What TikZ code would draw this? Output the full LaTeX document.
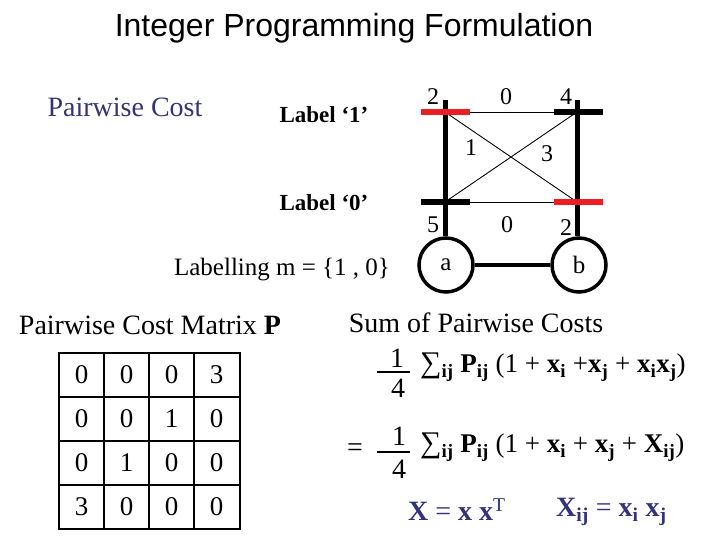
\documentclass[tikz,border=0pt]{standalone}
\usepackage{fontspec}
\setmainfont{Liberation Serif}
\newfontfamily\arialf{Liberation Sans}
\definecolor{navy}{RGB}{51,51,122}
\definecolor{barred}{RGB}{235,30,35}
\newcommand\bsub[2]{\textbf{#1}\textsubscript{\textbf{#2}}}
\begin{document}
\begin{tikzpicture}[x=1pt,y=-1pt,
  txt/.style={inner sep=0pt,font=\fontsize{28}{32}\selectfont},
  eqt/.style={inner sep=0pt,font=\fontsize{27}{31}\selectfont},
  lbl/.style={inner sep=0pt,font=\fontsize{23}{27}\selectfont\bfseries},
  num/.style={inner sep=0pt,font=\fontsize{24}{28}\selectfont},
  cell/.style={inner sep=0pt,font=\fontsize{27}{30}\selectfont},
  vert/.style={draw,circle,line width=3.5pt,minimum size=54pt,inner sep=0pt,font=\fontsize{25}{29}\selectfont},
  thickline/.style={line width=5pt},
  edge/.style={line width=4pt},
  thinline/.style={line width=0.9pt},
  barbox/.style={minimum width=49pt,minimum height=6pt,inner sep=0pt,outer sep=0pt},
  grid/.style={line width=2.5pt}
]
\useasboundingbox (0,0) rectangle (720,540);
% title
\node[inner sep=0pt,font=\arialf\fontsize{32}{36}\selectfont] (title) at (354,28) {Integer Programming Formulation};
% left labels
\node[txt,text=navy] (pc) at (125,107) {Pairwise Cost};
\node[lbl] (l1) at (324,115) {Label ‘1’};
\node[lbl] (l0) at (324,203) {Label ‘0’};
\node[inner sep=0pt,font=\fontsize{25}{29}\selectfont] (lab) at (282,270) {Labelling m = \{1 , 0\}};
% graph
\coordinate (tL) at (445,100);
\coordinate (tR) at (577,100);
\coordinate (cL1) at (445,112);
\coordinate (cR1) at (577,112);
\coordinate (cL0) at (445,202);
\coordinate (cR0) at (577,202);
\node[vert] (a) at (446,265) {a};
\node[vert] (b) at (579,265) {b};
\draw[edge] (a) -- (b);
\draw[thickline] (tL) -- (tL |- a.north);
\draw[thickline] (tR) -- (tR |- b.north);
\draw[thinline] (cL1) -- (cR1);
\draw[thinline] (cL0) -- (cR0);
\draw[thinline] (cL1) -- (cR0);
\draw[thinline] (cL0) -- (cR1);
\node[barbox,fill=barred] (bL1) at (cL1) {};
\node[barbox,fill=black] (bR1) at ([xshift=1pt]cR1) {};
\node[barbox,fill=black] (bL0) at (cL0) {};
\node[barbox,fill=barred] (bR0) at ([xshift=1pt]cR0) {};
\node[num] (n1) at (433,97) {2};
\node[num] (n2) at (506,97) {0};
\node[num] (n3) at (566,97) {4};
\node[num] (n4) at (471,148) {1};
\node[num] (n5) at (547,154) {3};
\node[num] (n6) at (433,225) {5};
\node[num] (n7) at (507,225) {0};
\node[num] (n8) at (566,228) {2};
% matrix
\node[txt] (pcm) at (150,325) {Pairwise Cost Matrix \textbf{P}};
\draw[grid] (59,353) rectangle (240,529);
\foreach \yy in {397,441,485} \draw[grid] (59,\yy) -- (240,\yy);
\foreach \xx in {104,149,194} \draw[grid] (\xx,353) -- (\xx,529);
\foreach \r/\vals in {1/{0,0,0,3},2/{0,0,1,0},3/{0,1,0,0},4/{3,0,0,0}}{
  \foreach \v [count=\c] in \vals {
    \node[cell] (m\r\c) at ({59+45*\c-22.5},{353+44*\r-22}) {\v};
  }
}
% formulas
\node[txt] (sum) at (476,323) {Sum of Pairwise Costs};
\node[txt] (f1n) at (397,358) {1};
\draw[line width=1.2pt] (377,372) -- (410,372);
\node[txt] (f1d) at (398,388) {4};
\node[eqt,anchor=west] (eq1) at (420,367) {{\fontsize{30}{30}\selectfont ∑}\bsub{}{ij} \bsub{P}{ij} (1 + \bsub{x}{i} +\bsub{x}{j} + \bsub{x}{i}\bsub{x}{j})};
\node[txt] (eqs) at (355,450) {=};
\node[txt] (f2n) at (399,436) {1};
\draw[line width=1.2pt] (377,452) -- (410,452);
\node[txt] (f2d) at (399,469) {4};
\node[eqt,anchor=west] (eq2) at (420,447) {{\fontsize{30}{30}\selectfont ∑}\bsub{}{ij} \bsub{P}{ij} (1 + \bsub{x}{i} + \bsub{x}{j} + \bsub{X}{ij})};
\node[txt,anchor=west,text=navy] (xx) at (408,510) {\textbf{X} = \textbf{x x}\textsuperscript{T}};
\node[txt,anchor=west,text=navy] (xij) at (556,512) {\bsub{X}{ij} = \bsub{x}{i} \bsub{x}{j}};
\end{tikzpicture}
\end{document}
